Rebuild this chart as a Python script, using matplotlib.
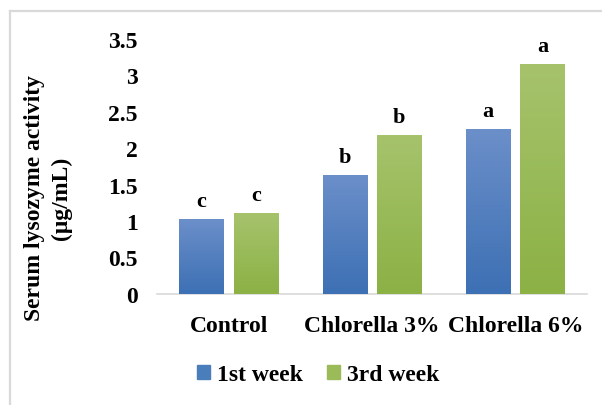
import numpy as np
import matplotlib
matplotlib.use('Agg')
import matplotlib.pyplot as plt
from matplotlib.colors import LinearSegmentedColormap
from matplotlib.lines import Line2D
from matplotlib.patches import Patch

categories = ['Control', 'Chlorella 3%', 'Chlorella 6%']
week1 = [1.03, 1.63, 2.26]
week3 = [1.11, 2.18, 3.15]
letters1 = ['c', 'b', 'a']
letters3 = ['c', 'b', 'a']
series_names = ['1st week', '3rd week']

plt.rcParams['font.family'] = 'Liberation Serif'
plt.rcParams['font.weight'] = 'bold'

fig = plt.figure(figsize=(6.02, 4.06), dpi=100)
ax = fig.add_axes([0.2608, 0.2741, 0.7142, 0.6274])

# light grey frame of the chart area
fig.add_artist(Line2D([10 / 602, 10 / 602], [0, 1 - 12 / 406], transform=fig.transFigure,
                      color='#d9d9d9', lw=1.6))
fig.add_artist(Line2D([10 / 602, 1], [1 - 12 / 406, 1 - 12 / 406], transform=fig.transFigure,
                      color='#d9d9d9', lw=1.6))

x = np.arange(len(categories))
w = 0.31
off = 0.19

blue_cmap = LinearSegmentedColormap.from_list('b', ['#3d70b4', '#6b8fc9'])
green_cmap = LinearSegmentedColormap.from_list('g', ['#8cb145', '#a6c36c'])

grad = np.linspace(0, 1, 100).reshape(-1, 1)

for vals, pos, cmap, base in [(week1, x - off, blue_cmap, '#4a7ebb'),
                              (week3, x + off, green_cmap, '#9bbb59')]:
    bars = ax.bar(pos, vals, width=w, color=base, zorder=2)
    for b in bars:
        x0 = b.get_x()
        im = ax.imshow(grad, extent=[x0, x0 + b.get_width(), 0, b.get_height()],
                       origin='lower', aspect='auto', cmap=cmap, zorder=3)
        im.set_clip_path(b)

for xi, v, t in zip(x - off, week1, letters1):
    ax.text(xi, v + 0.11, t, ha='center', va='bottom', fontsize=16, fontweight='bold')
for xi, v, t in zip(x + off, week3, letters3):
    ax.text(xi, v + 0.11, t, ha='center', va='bottom', fontsize=16, fontweight='bold')

ax.set_xlim(-0.5, 2.5)
ax.set_ylim(0, 3.5)
ax.set_yticks(np.arange(0, 3.51, 0.5))
ax.set_yticklabels(['0', '0.5', '1', '1.5', '2', '2.5', '3', '3.5'])
ax.set_xticks(x)
ax.set_xticklabels(categories)
ax.tick_params(axis='y', length=0, pad=14, labelsize=17)
ax.tick_params(axis='x', length=0, pad=15, labelsize=17)

for s in ['top', 'right', 'left']:
    ax.spines[s].set_visible(False)
ax.spines['bottom'].set_color('#d9d9d9')
ax.spines['bottom'].set_linewidth(1.2)

fig.text(48 / 602, 1 - 198 / 406, 'Serum lysozyme activity\n(μg/mL)', rotation=90,
         ha='center', va='center', fontsize=17, fontweight='bold', linespacing=1.3,
         multialignment='center')

handles = [Patch(color='#4a7ebb'), Patch(color='#9bbb59')]
fig.legend(handles, series_names, loc='center', bbox_to_anchor=(318 / 602, 1 - 376 / 406),
           ncol=2, frameon=False, fontsize=17, handlelength=0.55, handleheight=0.55,
           handletextpad=0.3, columnspacing=1.0)

fig.savefig('out.png', dpi=100)
